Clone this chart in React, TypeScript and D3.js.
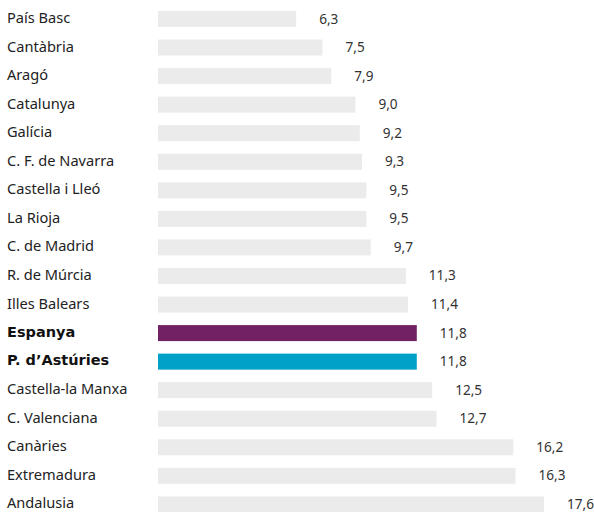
import React from 'react';
import * as d3 from 'd3';

const WIDTH = 594;
const HEIGHT = 512;

const regions = [
  'País Basc', 'Cantàbria', 'Aragó', 'Catalunya', 'Galícia', 'C. F. de Navarra',
  'Castella i Lleó', 'La Rioja', 'C. de Madrid', 'R. de Múrcia', 'Illes Balears',
  'Espanya', 'P. d’Astúries', 'Castella-la Manxa', 'C. Valenciana', 'Canàries',
  'Extremadura', 'Andalusia',
];
const values = [6.3, 7.5, 7.9, 9.0, 9.2, 9.3, 9.5, 9.5, 9.7, 11.3, 11.4, 11.8, 11.8, 12.5, 12.7, 16.2, 16.3, 17.6];
const highlighted = ['Espanya', 'P. d’Astúries'];
const highlightColors = ['#722264', '#00a1c9'];

const BAR_H = 16;
const fmt = (v: number) => v.toFixed(1).replace('.', ',');

export default function App() {
  const x = d3.scaleLinear().domain([0, 17.6]).range([158, 544]);
  const y = d3.scalePoint<string>().domain(regions).range([19, 504.4]);

  return (
    <svg
      width={WIDTH}
      height={HEIGHT}
      style={{ position: 'absolute', left: 0, top: 0, background: '#fff' }}
      fontFamily="'Noto Sans', sans-serif"
    >
      {regions.map((r, i) => {
        const cy = y(r)!;
        const hi = highlighted.indexOf(r);
        return (
          <g key={r}>
            {hi >= 0 ? (
              <text
                x={7}
                y={cy - 1.5}
                dominantBaseline="central"
                fontFamily="'DejaVu Sans', sans-serif"
                fontSize={14.5}
                fontWeight="bold"
                fill="#111"
              >
                {r}
              </text>
            ) : (
              <text x={7} y={cy - 2} dominantBaseline="central" fontSize={14.6} fill="#222">
                {r}
              </text>
            )}
            <rect
              x={x(0)}
              y={cy - BAR_H / 2}
              width={x(values[i]) - x(0)}
              height={BAR_H}
              fill={hi >= 0 ? highlightColors[hi] : '#ebebeb'}
            />
            <text
              x={x(values[i]) + 23}
              y={cy - 1}
              dominantBaseline="central"
              fontSize={13.6}
              fill="#333"
            >
              {fmt(values[i])}
            </text>
          </g>
        );
      })}
    </svg>
  );
}
